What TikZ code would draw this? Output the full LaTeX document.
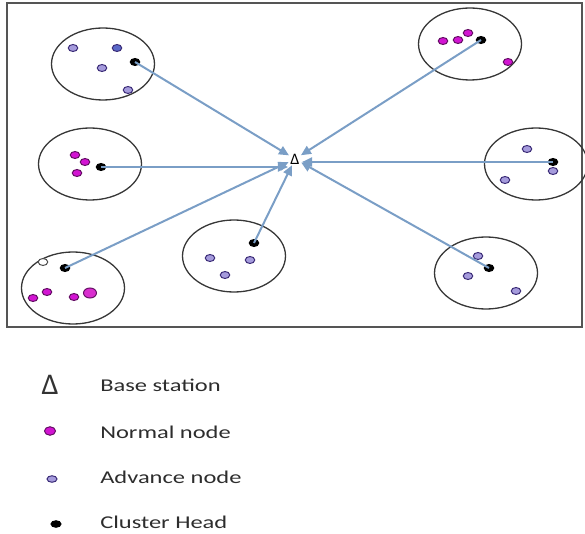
\documentclass[tikz,border=0pt]{standalone}
\usepackage{fontspec}
\setmainfont{Carlito}
\usetikzlibrary{shapes.geometric,arrows.meta}
\definecolor{framec}{RGB}{85,85,85}
\definecolor{circc}{RGB}{55,55,55}
\definecolor{arrc}{RGB}{122,158,198}
\definecolor{normfill}{RGB}{210,20,210}
\definecolor{normline}{RGB}{100,15,100}
\definecolor{advfill}{RGB}{165,155,220}
\definecolor{advline}{RGB}{60,45,120}
\definecolor{bluefill}{RGB}{90,105,200}
\definecolor{txtc}{RGB}{45,45,45}
\tikzset{
  cluster/.style={ellipse,draw=circc,line width=1.3pt,minimum width=103pt,minimum height=72pt,inner sep=0pt},
  dotbase/.style={ellipse,inner sep=0pt,line width=1pt,minimum width=9.5pt,minimum height=7pt},
  normal/.style={dotbase,fill=normfill,draw=normline},
  bignormal/.style={dotbase,fill=normfill!85!pink,draw=normline,minimum width=13pt,minimum height=10pt},
  advance/.style={dotbase,fill=advfill,draw=advline},
  blueadv/.style={dotbase,fill=bluefill,draw=advline},
  hollow/.style={dotbase,fill=white,draw=black!70},
  head/.style={dotbase,fill=black,draw=black},
  link/.style={draw=arrc,line width=2pt,-{Triangle[length=10pt,width=9pt]}},
  legtext/.style={anchor=west,text=txtc,font=\fontsize{18}{20}\selectfont,xscale=1.36,inner sep=0pt},
}
\begin{document}
\begin{tikzpicture}[x=1pt,y=-1pt]
\useasboundingbox (0,0) rectangle (585,534);
\node[draw=framec,line width=1.5pt,minimum width=575pt,minimum height=324pt,inner sep=0pt] (frame) at (294.5,165) {};
% clusters
\node[cluster] (c1) at (103,64) {};
\node[cluster] (c2) at (90,164) {};
\node[cluster] (c3) at (73,288) {};
\node[cluster] (c4) at (234,256) {};
\node[cluster] (c5) at (470,44) {};
\node[cluster] (c6) at (536,164) {};
\node[cluster] (c7) at (486,273) {};
% base station
\node[circle,minimum size=9pt,inner sep=0pt,font=\fontsize{16}{16}\selectfont] (bs) at (295,159) {Δ};
% cluster 1
\node[advance] (a11) at (73,48) {};
\node[blueadv] (a12) at (117,48) {};
\node[advance] (a13) at (102,68) {};
\node[advance] (a14) at (128,90) {};
\node[head] (h1) at (135,62) {};
% cluster 2
\node[normal] (n21) at (75,155) {};
\node[normal] (n22) at (85,162) {};
\node[normal] (n23) at (77,173) {};
\node[head] (h2) at (101,167) {};
% cluster 3
\node[hollow] (w31) at (43,262) {};
\node[head] (h3) at (65,268) {};
\node[normal] (n31) at (33,298) {};
\node[normal] (n32) at (47,292) {};
\node[normal] (n33) at (74,297) {};
\node[bignormal] (n34) at (90,293) {};
% cluster 4
\node[head] (h4) at (254,243) {};
\node[advance] (a41) at (210,258) {};
\node[advance] (a42) at (250,260) {};
\node[advance] (a43) at (225,275) {};
% cluster 5
\node[normal] (n51) at (443,41) {};
\node[normal] (n52) at (458,40) {};
\node[normal] (n53) at (468,33) {};
\node[head] (h5) at (481,40) {};
\node[normal] (n54) at (508,62) {};
% cluster 6
\node[advance] (a61) at (527,149) {};
\node[head] (h6) at (553,162) {};
\node[advance] (a62) at (553,171) {};
\node[advance] (a63) at (505,180) {};
% cluster 7
\node[advance] (a71) at (478,256) {};
\node[head] (h7) at (489,268) {};
\node[advance] (a72) at (468,276) {};
\node[advance] (a73) at (516,291) {};
% links
\draw[link] (h1.center) -- (bs);
\draw[link] (h2.center) -- (h2.center -| bs.west);
\draw[link] (h3.center) -- (bs);
\draw[link] (h4.center) -- (bs);
\draw[link] (h5.center) -- (bs);
\draw[link] (h6.center) -- (h6.center -| bs.east);
\draw[link] (h7.center) -- (bs);
% legend
\node[text=black!80,font=\fontsize{30}{30}\selectfont,inner sep=0pt] (lbs) at (50,385) {Δ};
\node[dotbase,fill=normfill,draw=normline,minimum width=11pt,minimum height=8.5pt] (lnorm) at (50,431) {};
\node[advance,minimum width=10pt,minimum height=6.5pt] (ladv) at (52,479) {};
\node[head,minimum width=10pt,minimum height=6.5pt] (lhead) at (56,524) {};
\node[legtext] (tbs) at (100,385) {Base station};
\node[legtext] (tnorm) at (100,432) {Normal node};
\node[legtext] (tadv) at (100,477) {Advance node};
\node[legtext] (thead) at (100,522) {Cluster Head};
\end{tikzpicture}
\end{document}
